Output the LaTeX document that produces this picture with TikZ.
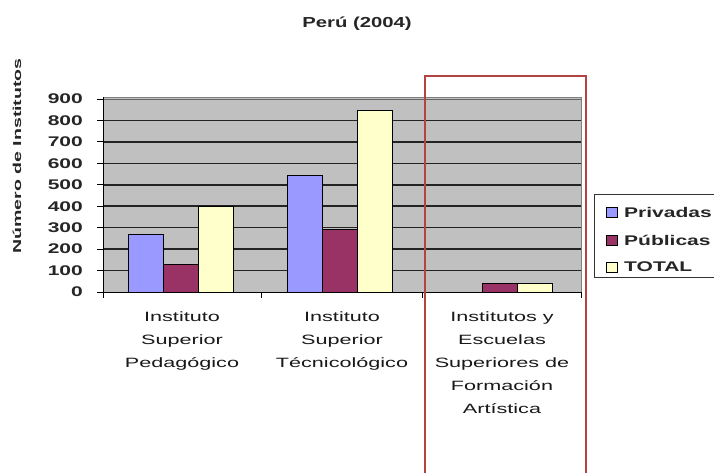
\documentclass[tikz,border=0pt]{standalone}
\usepackage{fontspec}
\newfontfamily\cfa[FakeStretch=1.5]{Liberation Sans}
\newfontfamily\cfc[FakeStretch=1.6]{Liberation Sans}
\newfontfamily\cft[FakeStretch=1.4]{Liberation Sans}
\newfontfamily\cfy[FakeStretch=1.7]{Liberation Sans}
\definecolor{cpriv}{RGB}{153,153,255}
\definecolor{cpub}{RGB}{153,51,102}
\definecolor{ctot}{RGB}{255,255,204}
\definecolor{cplot}{RGB}{192,192,192}
\definecolor{cgrid}{RGB}{35,35,35}
\definecolor{cred}{RGB}{178,68,68}
\begin{document}
\begin{tikzpicture}[x=1pt,y=-1pt,
  grid/.style={draw=cgrid,line width=1.5pt},
  axisline/.style={draw=black,line width=1pt},
  barline/.style={draw=black,line width=0.9pt},
  ticklab/.style={font=\cfa\bfseries\fontsize{14}{14}\selectfont,inner sep=0pt,anchor=east,text=black!85},
  catlab/.style={font=\cfc\fontsize{13.5}{23}\selectfont,align=center,inner sep=0pt,anchor=north,text=black!90},
  leglab/.style={font=\cfa\bfseries\fontsize{14}{14}\selectfont,inner sep=0pt,anchor=west,text=black!85},
  swatch/.style={draw=black,line width=0.7pt}]
\useasboundingbox (0,0) rectangle (714,472);
\fill[white] (0,0) rectangle (714,472);
% plot area
\fill[cplot] (103,97) rectangle (581,292);
\draw[draw=gray,line width=0.8pt] (103,97) -- (581,97) -- (581,292);
\foreach \v in {100,200,...,800}
  \draw[grid] (103,{292-\v*0.21444}) -- (581,{292-\v*0.21444});
\draw[draw=cgrid!70,line width=1pt] (103,99) -- (581,99);
% bars
\foreach \x/\v/\c in {128/270/cpriv,163/130/cpub,198/400/ctot,287/545/cpriv,322/290/cpub,357/845/ctot,482/38/cpub,517/38/ctot}
  \draw[barline,fill=\c] (\x,292) rectangle ({\x+35},{292-\v*0.21444});
% axes
\draw[axisline] (103,97) -- (103,292) -- (581,292);
\foreach \v in {0,100,...,900}
  \draw[axisline] (97,{292-\v*0.21444}) -- (103,{292-\v*0.21444});
\foreach \x in {103,261,422,581}
  \draw[axisline] (\x,292) -- (\x,298);
\foreach \v in {0,100,...,900}
  \node[ticklab] (t\v) at (83,{292-\v*0.21444}) {\v};
% title and axis label
\node[font=\cft\bfseries\fontsize{14.5}{14.5}\selectfont,inner sep=0pt,text=black!85] (title) at (357,24) {Perú (2004)};
\node[font=\cfy\bfseries\fontsize{11.5}{11.5}\selectfont,inner sep=0pt,rotate=90,text=black!85] (ylab) at (17,156) {Número de Institutos};
% category labels
\node[catlab] (c1) at (182,312) {Instituto\\Superior\\Pedagógico};
\node[catlab] (c2) at (342,312) {Instituto\\Superior\\Técnicológico};
\node[catlab] (c3) at (502,312) {Institutos y\\Escuelas\\Superiores de\\Formación\\Artística};
% highlight box
\draw[draw=cred,line width=1.6pt] (425,480) -- (425,76) -- (586,76) -- (586,480);
% legend
\draw[draw=black!80,line width=0.9pt] (716,194) -- (594,194) -- (594,277) -- (716,277);
\draw[swatch,fill=cpriv] (606,207) rectangle (617,217);
\draw[swatch,fill=cpub] (606,235) rectangle (617,245);
\draw[swatch,fill=ctot] (606,262) rectangle (617,272);
\node[leglab] (l1) at (624,212) {Privadas};
\node[leglab] (l2) at (624,240) {Públicas};
\node[leglab] (l3) at (624,267) {TOTAL};
\end{tikzpicture}
\end{document}
